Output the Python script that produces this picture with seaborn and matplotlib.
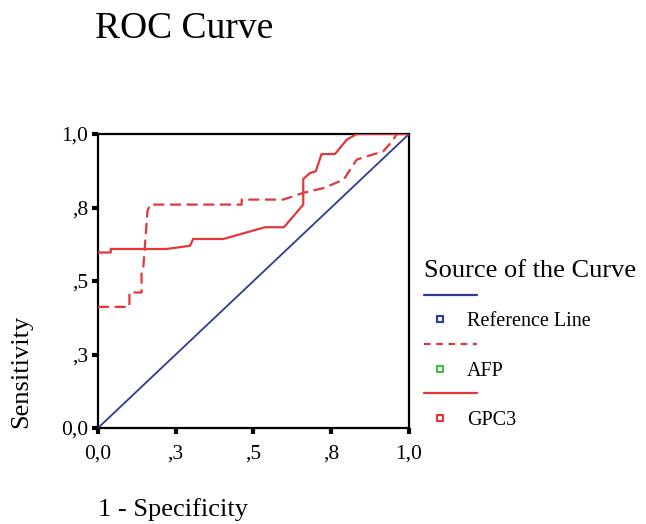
import numpy as np
import pandas as pd
import matplotlib
matplotlib.use("Agg")
import matplotlib.pyplot as plt
import seaborn as sns
from matplotlib.lines import Line2D
from matplotlib.legend_handler import HandlerLine2D

# ROC points (1 - specificity, sensitivity)
gpc3_fpr = [0.0, 0.041, 0.041, 0.221, 0.296, 0.306, 0.403, 0.537, 0.598, 0.660, 0.660,
            0.681, 0.700, 0.719, 0.762, 0.800, 0.832, 1.0]
gpc3_tpr = [0.597, 0.597, 0.609, 0.609, 0.620, 0.643, 0.643, 0.683, 0.683, 0.760, 0.847,
            0.867, 0.873, 0.932, 0.932, 0.981, 1.0, 1.0]

afp_fpr = [0.0, 0.101, 0.101, 0.140, 0.140, 0.146, 0.159, 0.167, 0.462, 0.462, 0.596,
           0.660, 0.725, 0.790, 0.832, 0.864, 0.917, 0.950, 0.960, 1.0]
afp_tpr = [0.412, 0.412, 0.461, 0.461, 0.527, 0.550, 0.737, 0.760, 0.760, 0.777, 0.777,
           0.800, 0.816, 0.845, 0.913, 0.924, 0.941, 0.980, 1.0, 1.0]

ref_fpr = [0.0, 1.0]
ref_tpr = [0.0, 1.0]

tick_vals = [0.0, 0.25, 0.5, 0.75, 1.0]
tick_labels = ["0,0", ",3", ",5", ",8", "1,0"]

RED = "#e2383a"
BLUE = "#2f3b93"
GREEN = "#4cb84c"

sns.set_theme(style="ticks")
plt.rcParams["font.family"] = ["Liberation Serif", "DejaVu Serif"]
plt.rcParams["text.color"] = "black"
plt.rcParams["axes.labelcolor"] = "black"


class LongLine(HandlerLine2D):
    # legend line samples are longer than the marker boxes
    def create_artists(self, legend, orig_handle, xdescent, ydescent, width, height, fontsize, trans):
        return super().create_artists(legend, orig_handle, xdescent, ydescent,
                                      width * 1.75, height, fontsize, trans)


fig = plt.figure(figsize=(6.46, 5.24), dpi=100)
ax = fig.add_axes([0.1517, 0.1832, 0.4814, 0.561])

ref_df = pd.DataFrame({"fpr": ref_fpr, "tpr": ref_tpr})
afp_df = pd.DataFrame({"fpr": afp_fpr, "tpr": afp_tpr})
gpc_df = pd.DataFrame({"fpr": gpc3_fpr, "tpr": gpc3_tpr})

sns.lineplot(data=ref_df, x="fpr", y="tpr", ax=ax, color=BLUE, lw=1.3,
             sort=False, estimator=None)
sns.lineplot(data=afp_df, x="fpr", y="tpr", ax=ax, color=RED, lw=1.6,
             sort=False, estimator=None)
ax.lines[-1].set_dashes((5, 2.5))
sns.lineplot(data=gpc_df, x="fpr", y="tpr", ax=ax, color=RED, lw=1.6,
             sort=False, estimator=None)

ax.set_xlim(0, 1)
ax.set_ylim(0, 1)
ax.set_xticks(tick_vals)
ax.set_xticklabels(tick_labels)
ax.set_yticks(tick_vals)
ax.set_yticklabels(tick_labels)
ax.tick_params(axis="both", length=4, width=3, color="black", labelsize=15.5,
               pad=3, labelcolor="black", direction="out")
ax.tick_params(axis="x", pad=8)
for sp in ax.spines.values():
    sp.set_visible(True)
    sp.set_color("black")
    sp.set_linewidth(1.6)
    sp.set_zorder(1)

ax.set_xlabel("1 - Specificity", fontsize=19, loc="left", labelpad=25)
ax.set_ylabel("Sensitivity", fontsize=19, loc="bottom", labelpad=21)

fig.suptitle("ROC Curve", x=0.147, y=0.978, ha="left", va="top", fontsize=27)

handles = [
    Line2D([], [], color=BLUE, lw=1.6),
    Line2D([], [], marker="s", ls="None", markersize=5, markerfacecolor="#f4f4ff",
           markeredgecolor=BLUE, markeredgewidth=1.5),
    Line2D([], [], color=RED, lw=1.6, dashes=(3, 2.5)),
    Line2D([], [], marker="s", ls="None", markersize=5, markerfacecolor="#f4fff4",
           markeredgecolor=GREEN, markeredgewidth=1.5),
    Line2D([], [], color=RED, lw=1.6),
    Line2D([], [], marker="s", ls="None", markersize=5, markerfacecolor="#fff4f4",
           markeredgecolor=RED, markeredgewidth=1.5),
]
labels = ["", "Reference Line", "", "AFP", "", "GPC3"]
hmap = {handles[0]: LongLine(), handles[2]: LongLine(), handles[4]: LongLine()}
fig.legend(handles, labels, title="Source of the Curve", loc="upper left",
           bbox_to_anchor=(0.657, 0.503), frameon=False, fontsize=14.5,
           title_fontsize=19, handlelength=1.5, handletextpad=0.6,
           labelspacing=0.27, borderpad=0, borderaxespad=0,
           alignment="left", handler_map=hmap)

fig.savefig("out.png", dpi=100)
